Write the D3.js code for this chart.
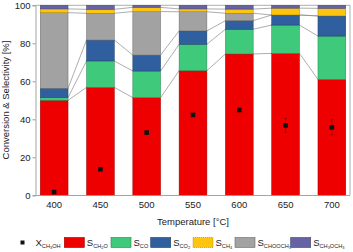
<!DOCTYPE html>
<html>
<head>
<meta charset="utf-8">
<script src="https://cdn.jsdelivr.net/npm/d3@7"></script>
<style>
  body { margin: 0; background: #fff; }
  text { font-family: "Liberation Sans", Arial, sans-serif; fill: #222; }
</style>
</head>
<body>
<script>
// temperatures [°C]
var temps = ["400", "450", "500", "550", "600", "650", "700"];

// selectivities [%], stack order bottom -> top
var sCH2O    = [50.0, 56.8, 51.4, 65.6, 74.4, 74.7, 61.0];
var sCO      = [1.4, 13.9, 14.0, 13.9, 13.0, 14.9, 22.8];
var sCO2     = [4.9, 11.0, 8.4, 7.0, 4.5, 5.3, 10.6];
var sCHOOCH3 = [39.8, 14.1, 22.9, 10.1, 3.9, 0.0, 0.0];
var sCH4     = [2.0, 2.1, 2.2, 1.5, 2.2, 3.6, 4.0];
var sCH3OCH3 = [1.9, 2.1, 1.1, 1.9, 2.0, 1.5, 1.6];

// methanol conversion [%] and its error
var xCH3OH   = [1.7, 13.7, 33.0, 42.3, 44.9, 36.8, 35.8];
var xErr     = [0, 0, 0, 0, 0, 3.7, 4.0];

var series = [
  {name: "CH2O",    values: sCH2O,    color: "#ee0000"},
  {name: "CO",      values: sCO,      color: "#3ec97b"},
  {name: "CO2",     values: sCO2,     color: "#2f5f9e"},
  {name: "CHOOCH3", values: sCHOOCH3, color: "#a2a2a2"},
  {name: "CH4",     values: sCH4,     color: "#fdc50f"},
  {name: "CH3OCH3", values: sCH3OCH3, color: "#6663a5"}
];

var W = 353, H = 252;
var svg = d3.select("body").append("svg")
    .attr("width", W)
    .attr("height", H);

var x = d3.scaleBand().domain(temps).range([31, 355]).paddingInner(0.4).paddingOuter(0.2);
var y = d3.scaleLinear().domain([0, 100]).range([195.3, 5.3]);
var bw = x.bandwidth();

// cumulative stacks
var tabla = temps.map(function(t, i){
    var row = {t: t};
    series.forEach(function(s){ row[s.name] = s.values[i]; });
    return row;
});
var stack = d3.stack().keys(series.map(function(s){ return s.name; }))(tabla);

// frame
svg.append("line").attr("x1", 35.5).attr("x2", 350).attr("y1", 5.3).attr("y2", 5.3)
    .attr("stroke", "#9a9a9a").attr("stroke-width", 0.8);
svg.append("line").attr("x1", 350).attr("x2", 350).attr("y1", 5.3).attr("y2", 195.3)
    .attr("stroke", "#9a9a9a").attr("stroke-width", 0.8);

// connector lines between bars
var gLines = svg.append("g");
stack.slice(0, stack.length - 1).forEach(function(capa){
    for(var i = 0; i < temps.length - 1; i++){
        gLines.append("line")
            .attr("x1", x(temps[i]) + bw)
            .attr("y1", y(capa[i][1]))
            .attr("x2", x(temps[i+1]))
            .attr("y2", y(capa[i+1][1]))
            .attr("stroke", "#8a8a8a")
            .attr("stroke-width", 0.7);
    }
});

// bars
stack.forEach(function(capa, k){
    svg.append("g").selectAll("rect")
        .data(capa)
        .enter().append("rect")
        .attr("x", function(d){ return x(d.data.t); })
        .attr("y", function(d){ return y(d[1]); })
        .attr("width", bw)
        .attr("height", function(d){ return y(d[0]) - y(d[1]); })
        .attr("fill", series[k].color)
        .attr("stroke", d3.color(series[k].color).darker(1.2))
        .attr("stroke-width", 0.5);
});

// conversion points with error bars
var gConv = svg.append("g");
temps.forEach(function(t, i){
    var cx = x(t) + bw / 2;
    if(xErr[i] > 0){
        gConv.append("line").attr("x1", cx).attr("x2", cx)
            .attr("y1", y(xCH3OH[i] - xErr[i])).attr("y2", y(xCH3OH[i] + xErr[i]))
            .attr("stroke", "#7a0000").attr("stroke-width", 0.6);
        [xCH3OH[i] - xErr[i], xCH3OH[i] + xErr[i]].forEach(function(v){
            gConv.append("line").attr("x1", cx - 1.2).attr("x2", cx + 1.2)
                .attr("y1", y(v)).attr("y2", y(v))
                .attr("stroke", "#7a0000").attr("stroke-width", 0.6);
        });
    }
    gConv.append("rect")
        .attr("x", cx - 2.3).attr("y", y(xCH3OH[i]) - 2.3)
        .attr("width", 4.6).attr("height", 4.6)
        .attr("fill", "#111");
});

// axes
var yAxis = svg.append("g")
    .attr("transform", "translate(35.5,0)")
    .call(d3.axisLeft(y).tickValues([0, 20, 40, 60, 80, 100]).tickSize(3).tickPadding(2));
var xAxis = svg.append("g")
    .attr("transform", "translate(0,195.5)")
    .call(d3.axisBottom(x).tickSize(0).tickPadding(6));
xAxis.select(".domain").attr("d", "M35.5,0H350");
[yAxis, xAxis].forEach(function(g){
    g.selectAll(".domain").attr("stroke", "#9a9a9a").attr("stroke-width", 0.9);
    g.selectAll(".tick line").attr("stroke", "#9a9a9a");
    g.selectAll("text").style("font-size", "9.5px").style("font-family", "Liberation Sans, Arial, sans-serif").attr("fill", "#222");
});

// axis titles
svg.append("text")
    .attr("transform", "translate(9,100) rotate(-90)")
    .attr("text-anchor", "middle")
    .style("font-size", "9.5px")
    .text("Conversion & Selectivity [%]");
svg.append("text")
    .attr("x", 193).attr("y", 225)
    .attr("text-anchor", "middle")
    .style("font-size", "9.5px")
    .text("Temperature [°C]");

// legend
var gLeg = svg.append("g").attr("transform", "translate(0,242.5)");
function etiqueta(xp, main, sub){
    var t = gLeg.append("text").attr("x", xp).attr("y", 3.5).style("font-size", "9.5px");
    t.append("tspan").text(main);
    var partes = sub.split(/(\d)/).filter(function(p){ return p !== ""; });
    var base = 2;  // subscript offset
    partes.forEach(function(p, j){
        var esNum = /\d/.test(p);
        var off = base + (esNum ? 1 : 0);
        var prev = j === 0 ? 0 : base + (/\d/.test(partes[j-1]) ? 1 : 0);
        t.append("tspan")
            .style("font-size", esNum ? "4px" : "5.6px")
            .attr("dy", off - prev)
            .text(p);
    });
}
gLeg.append("rect").attr("x", 20.5).attr("y", -2).attr("width", 4).attr("height", 4).attr("fill", "#111");
etiqueta(35.5, "X", "CH3OH");
var legX = [64.3, 111, 150.7, 193, 235, 290.7];
var legOrder = ["CH2O", "CO", "CO2", "CH4", "CHOOCH3", "CH3OCH3"];
legOrder.forEach(function(nm, i){
    var s = series.filter(function(d){ return d.name === nm; })[0];
    gLeg.append("rect")
        .attr("x", legX[i]).attr("y", -5)
        .attr("width", 20).attr("height", 10)
        .attr("fill", s.color)
        .attr("stroke", d3.color(s.color).darker(1.2))
        .attr("stroke-width", 0.6)
        .attr("stroke-dasharray", nm === "CH4" ? "1.2,0.8" : null);
    etiqueta(legX[i] + 22.5, "S", nm);
});
</script>
</body>
</html>
